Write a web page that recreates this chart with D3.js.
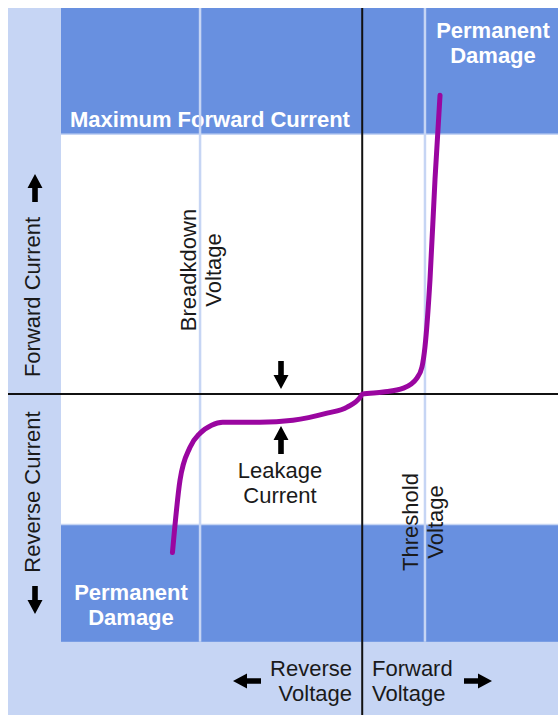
<!DOCTYPE html>
<html>
<head>
<meta charset="utf-8">
<script src="https://cdn.jsdelivr.net/npm/d3@7"></script>
<style>
  body { margin: 0; background: #fff; }
  text { font-family: "Liberation Sans", Arial, sans-serif; }
</style>
</head>
<body>
<svg id="chart" width="558" height="715"></svg>
<script>
// diode I-V curve, arbitrary units (0,0 = origin of the axes)
var voltage = [-1.89, -1.815, -1.715, -1.615, -1.50, -1.39, -1.02, -0.69, -0.35, -0.15, -0.02, 0, 0.21, 0.41, 0.545, 0.595, 0.625, 0.675, 0.725, 0.775];
var current = [-1.58, -0.86, -0.53, -0.39, -0.31, -0.28, -0.28, -0.26, -0.19, -0.13, -0.03, 0, 0.02, 0.06, 0.16, 0.27, 0.47, 1.14, 2.14, 2.98];

var voltageDomain = [-3.0, 1.95];
var currentDomain = [-3.2, 3.85];

var breakdownVoltage = -1.615;
var thresholdVoltage = 0.625;
var maxForwardCurrent = 2.59;
var reverseDamage = [-1.30, -2.47];

var width = 558, height = 715;
var left = 61, top0 = 8, outerLeft = 8;
var lineGap = 25;

var x = d3.scaleLinear().domain(voltageDomain).range([left, width]);
var y = d3.scaleLinear().domain(currentDomain).range([height, top0]);

var svg = d3.select('svg#chart');

var lightBlue = "#c6d5f4",
    darkBlue = "#6890e0",
    purple = "#9a06a0";

// background panels
svg.append('rect')
    .attr('x', outerLeft).attr('y', top0)
    .attr('width', width - outerLeft).attr('height', height - top0)
    .attr('fill', lightBlue);

svg.append('rect')
    .attr('x', left).attr('y', y(maxForwardCurrent))
    .attr('width', width - left).attr('height', y(reverseDamage[0]) - y(maxForwardCurrent))
    .attr('fill', '#fff');

// damage bands
svg.append('rect')
    .attr('x', left).attr('y', top0)
    .attr('width', width - left).attr('height', y(maxForwardCurrent) - top0)
    .attr('fill', darkBlue);
svg.append('rect')
    .attr('x', left).attr('y', y(reverseDamage[0]))
    .attr('width', width - left).attr('height', y(reverseDamage[1]) - y(reverseDamage[0]))
    .attr('fill', darkBlue);

// band edges
[maxForwardCurrent, reverseDamage[0]].forEach(function (c) {
    svg.append('line')
        .attr('x1', left).attr('x2', width)
        .attr('y1', y(c)).attr('y2', y(c))
        .attr('stroke', lightBlue).attr('stroke-width', 1.5);
});

// white labels in bands
function whiteLabel(lines, cx, cy, anchor) {
    var t = svg.append('text')
        .attr('text-anchor', anchor)
        .attr('fill', '#fff')
        .attr('font-size', 22)
        .attr('font-weight', 'bold');
    lines.forEach(function (s, i) {
        t.append('tspan').attr('x', cx).attr('y', cy + i * lineGap).text(s);
    });
}
whiteLabel(["Maximum Forward Current"], 70, 127, 'start');
whiteLabel(["Permanent", "Damage"], 493, 38, 'middle');
whiteLabel(["Permanent", "Damage"], 131, 600, 'middle');

// breakdown / threshold guide lines
[breakdownVoltage, thresholdVoltage].forEach(function (v) {
    svg.append('line')
        .attr('x1', x(v)).attr('x2', x(v))
        .attr('y1', top0).attr('y2', y(reverseDamage[1]))
        .attr('stroke', lightBlue).attr('stroke-width', 2.5);
});

// axes
svg.append('line')
    .attr('x1', x(0)).attr('x2', x(0))
    .attr('y1', top0).attr('y2', height)
    .attr('stroke', '#111').attr('stroke-width', 2);
svg.append('line')
    .attr('x1', outerLeft).attr('x2', width)
    .attr('y1', y(0)).attr('y2', y(0))
    .attr('stroke', '#111').attr('stroke-width', 2);

// the curve
var line = d3.line()
    .x(d => x(d[0]))
    .y(d => y(d[1]))
    .curve(d3.curveMonotoneX);

svg.append('path')
    .datum(d3.zip(voltage, current))
    .attr('d', line)
    .attr('fill', 'none')
    .attr('stroke', purple)
    .attr('stroke-width', 5)
    .attr('stroke-linecap', 'round');

// black text
function blackText(lines, px, py, anchor, rotate) {
    var g = svg.append('g')
        .attr('transform', 'translate(' + px + ',' + py + ')' + (rotate ? ' rotate(-90)' : ''));
    var t = g.append('text')
        .attr('text-anchor', anchor)
        .attr('fill', '#1a1a1a')
        .attr('font-size', 22);
    lines.forEach(function (s, i) {
        t.append('tspan').attr('x', 0).attr('y', i * lineGap).text(s);
    });
}

blackText(["Forward Current"], 40, 297, 'middle', true);
blackText(["Reverse Current"], 40, 492, 'middle', true);
blackText(["Breadkdown", "Voltage"], 196, 270, 'middle', true);
blackText(["Threshold", "Voltage"], 418, 522, 'middle', true);
blackText(["Leakage", "Current"], 280, 478, 'middle', false);
blackText(["Reverse", "Voltage"], 352, 676, 'end', false);
blackText(["Forward", "Voltage"], 372, 676, 'start', false);

// arrows: tip at (tx,ty), direction angle in degrees (0 = pointing right)
function arrow(tx, ty, angle) {
    svg.append('path')
        .attr('d', 'M0,0 L-14,-7.5 L-14,-2.8 L-28,-2.8 L-28,2.8 L-14,2.8 L-14,7.5 Z')
        .attr('transform', 'translate(' + tx + ',' + ty + ') rotate(' + angle + ')')
        .attr('fill', '#000');
}
arrow(35, 174, -90);
arrow(35, 614, 90);
arrow(281, 389, 90);
arrow(281, 426, -90);
arrow(233, 681, 180);
arrow(492, 681, 0);
</script>
</body>
</html>
